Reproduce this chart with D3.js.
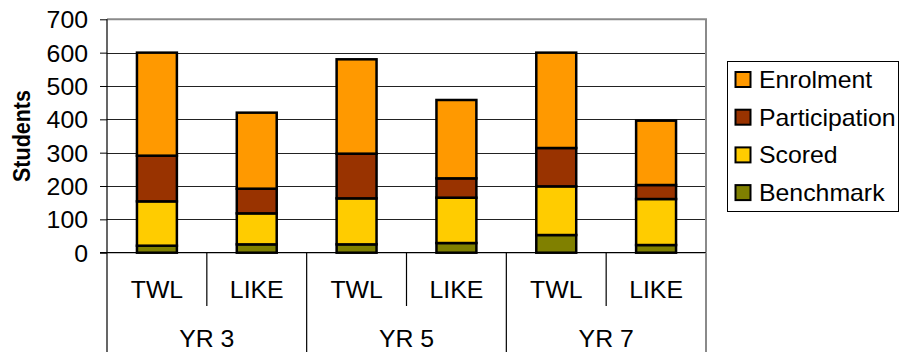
<!DOCTYPE html>
<html>
<head>
<meta charset="utf-8">
<script src="https://cdn.jsdelivr.net/npm/d3@7"></script>
<style>
  html, body { margin: 0; padding: 0; background: #fff; }
  svg { display: block; }
  text { font-family: "Liberation Sans", Arial, sans-serif; fill: #000; }
</style>
</head>
<body>
<svg id="chart" width="899" height="352"></svg>
<script>
// Student counts per year level and school
const yearLevels = ["YR 3", "YR 5", "YR 7"];
const schools = ["TWL", "LIKE"];
const seriesNames = ["Benchmark", "Scored", "Participation", "Enrolment"];
const benchmark     = [21, 25, 25, 29, 53, 23];
const scored        = [133, 93, 138, 136, 146, 138];
const participation = [137, 74, 134, 58, 115, 42];
const enrolment     = [309, 228, 283, 235, 286, 193];
const yTicks = [0, 100, 200, 300, 400, 500, 600, 700];

const colors = {
  Benchmark: "#808000",
  Scored: "#FFCC00",
  Participation: "#993300",
  Enrolment: "#FF9900"
};

// One row per bar (year level x school)
const rows = [];
yearLevels.forEach((yr, gi) => {
  schools.forEach((s, si) => {
    const i = gi * schools.length + si;
    rows.push({
      key: i, year: yr, school: s,
      Benchmark: benchmark[i], Scored: scored[i],
      Participation: participation[i], Enrolment: enrolment[i]
    });
  });
});

const svg = d3.select("#chart");
const plot = { left: 107, right: 706, top: 19.3, bottom: 252.7 };
const FS = 23, SX = 1.08;

const x = d3.scaleBand()
  .domain(rows.map(d => d.key))
  .range([plot.left, plot.right])
  .paddingInner(0.6)
  .paddingOuter(0.3);
const step = x.step();

const y = d3.scaleLinear().domain([0, 700]).range([plot.bottom, plot.top]);

// Horizontally widened text label
function label(g, tx, ty, str, anchor, opts = {}) {
  const t = g.append("text")
    .attr("transform", `translate(${tx},${ty}) scale(${opts.sx || SX},1)`)
    .attr("text-anchor", anchor)
    .style("font-size", (opts.size || FS) + "px")
    .text(str);
  if (opts.bold) t.style("font-weight", "bold");
  return t;
}

// Gridlines
svg.append("g")
  .selectAll("line")
  .data(yTicks.filter(v => v > 0 && v < 700))
  .join("line")
  .attr("x1", plot.left).attr("x2", plot.right)
  .attr("y1", d => Math.round(y(d)) + 0.5).attr("y2", d => Math.round(y(d)) + 0.5)
  .attr("stroke", "#222").attr("stroke-width", 1);

// Plot frame: top and right edges
svg.append("path")
  .attr("d", `M${plot.left},${y(700)}H${plot.right}V${plot.bottom}`)
  .attr("fill", "none").attr("stroke", "#8a8a8a").attr("stroke-width", 2);

// Stacked bars
const stack = d3.stack().keys(seriesNames);
const layers = stack(rows);
svg.append("g")
  .selectAll("g")
  .data(layers)
  .join("g")
  .attr("fill", d => colors[d.key])
  .selectAll("rect")
  .data(d => d)
  .join("rect")
  .attr("x", d => x(d.data.key))
  .attr("width", x.bandwidth())
  .attr("y", d => y(d[1]))
  .attr("height", d => y(d[0]) - y(d[1]))
  .attr("stroke", "#000")
  .attr("stroke-width", 2.5);

// Y axis
const yAxis = d3.axisLeft(y).tickValues(yTicks).tickSize(7).tickFormat(d3.format("d"));
const yg = svg.append("g").attr("transform", `translate(${plot.left},0)`).call(yAxis);
yg.select(".domain").remove();
yg.selectAll(".tick line").attr("stroke", "#000");
yg.selectAll(".tick text").remove();
yg.selectAll(".tick").each(function(d) {
  label(d3.select(this), -19, 8.5, String(d), "end");
});
// Left axis line runs down through the category band
svg.append("line")
  .attr("x1", plot.left).attr("x2", plot.left)
  .attr("y1", plot.top).attr("y2", 352)
  .attr("stroke", "#000").attr("stroke-width", 1.2);

// Y axis title
svg.append("text")
  .attr("transform", `translate(30,${(plot.top + plot.bottom) / 2}) rotate(-90) scale(1,${SX})`)
  .attr("text-anchor", "middle")
  .style("font-size", "21.5px")
  .style("font-weight", "bold")
  .text("Students");

// Category axis
const cat = svg.append("g");
cat.append("line")
  .attr("x1", 100).attr("x2", plot.right)
  .attr("y1", plot.bottom).attr("y2", plot.bottom)
  .attr("stroke", "#000").attr("stroke-width", 1.2);

const slotStart = i => x(i) - (step - x.bandwidth()) / 2;
rows.forEach((d, i) => {
  const left = slotStart(i);
  const right = left + step;
  const isGroupEnd = (i + 1) % schools.length === 0;
  cat.append("line")
    .attr("x1", right).attr("x2", right)
    .attr("y1", plot.bottom).attr("y2", isGroupEnd ? 352 : 306)
    .attr("stroke", i === rows.length - 1 ? "#8a8a8a" : "#000")
    .attr("stroke-width", i === rows.length - 1 ? 2 : 1.2);
  label(cat, x(d.key) + x.bandwidth() / 2, 297.7, d.school, "middle");
});
yearLevels.forEach((yr, gi) => {
  const first = gi * schools.length;
  const cx = slotStart(first) + step * schools.length / 2;
  label(cat, cx, 346.7, yr, "middle");
});

// Legend
const legend = svg.append("g");
legend.append("rect")
  .attr("x", 727.5).attr("y", 61.5).attr("width", 171).attr("height", 150)
  .attr("fill", "#fff").attr("stroke", "#000").attr("stroke-width", 1);
const legendOrder = seriesNames.slice().reverse();
legendOrder.forEach((name, i) => {
  const cy = 79.5 + i * 37.7;
  legend.append("rect")
    .attr("x", 735.5).attr("y", cy - 7.5).attr("width", 15).attr("height", 15)
    .attr("fill", colors[name]).attr("stroke", "#000").attr("stroke-width", 2);
  label(legend, 759, cy + 8.5, name, "start");
});
</script>
</body>
</html>
